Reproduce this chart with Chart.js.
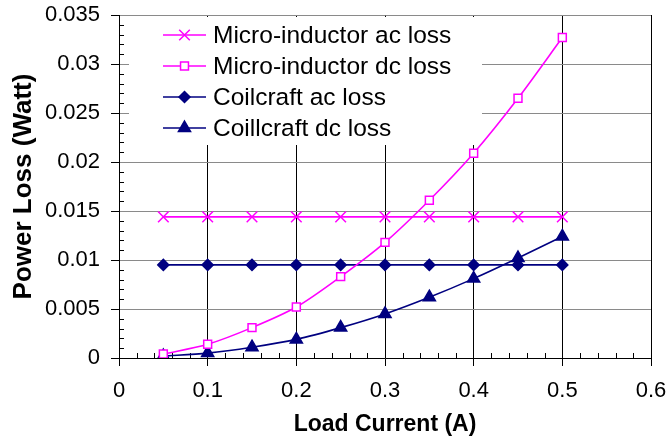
<!DOCTYPE html>
<html>
<head>
<meta charset="utf-8">
<script src="https://cdn.jsdelivr.net/npm/chart.js@4/dist/chart.umd.min.js"></script>
<style>
  html, body { margin: 0; padding: 0; background: #fff; }
  #wrap { width: 667px; height: 441px; }
</style>
</head>
<body>
<div id="wrap"><canvas id="chart-loss" width="667" height="441"></canvas></div>
<script>
var loadCurrent = [0.05, 0.1, 0.15, 0.2, 0.25, 0.3, 0.35, 0.4, 0.45, 0.5];
var microAcLoss = [0.0144, 0.0144, 0.0144, 0.0144, 0.0144, 0.0144, 0.0144, 0.0144, 0.0144, 0.0144];
var microDcLoss = [0.0004, 0.0014, 0.0031, 0.0052, 0.0083, 0.0118, 0.0161, 0.0209, 0.0265, 0.0327];
var coilAcLoss = [0.0095, 0.0095, 0.0095, 0.0095, 0.0095, 0.0095, 0.0095, 0.0095, 0.0095, 0.0095];
var coilDcLoss = [0.0002, 0.0005, 0.0011, 0.0019, 0.0031, 0.0045, 0.0062, 0.0081, 0.0102, 0.0124];
var seriesNames = ["Micro-inductor ac loss", "Micro-inductor dc loss", "Coilcraft ac loss", "Coillcraft dc loss"];
var xTickLabels = ["0", "0.1", "0.2", "0.3", "0.4", "0.5", "0.6"];
var yTickLabels = ["0", "0.005", "0.01", "0.015", "0.02", "0.025", "0.03", "0.035"];

var FONT = "'Liberation Sans', Arial, sans-serif";
var MAGENTA = "#ff00ff";
var NAVY = "#000080";

function points(ys) {
  return loadCurrent.map(function (x, i) { return { x: x, y: ys[i] }; });
}

function series(label, ys, color, style, radius, fill) {
  return {
    label: label,
    data: points(ys),
    borderColor: color,
    backgroundColor: fill,
    borderWidth: 1.6,
    tension: 0.3,
    pointStyle: style,
    pointRadius: radius,
    pointBorderColor: color,
    pointBackgroundColor: fill,
    pointBorderWidth: 1.5
  };
}

// legend inside the plot plus the small inward minor ticks
var decorPlugin = {
  id: "decor",
  beforeDatasetsDraw: function (chart) {
    var ctx = chart.ctx;
    var xs = chart.scales.x, ys = chart.scales.y;
    var area = chart.chartArea;
    ctx.save();
    ctx.strokeStyle = "#000";
    ctx.lineWidth = 1;
    ctx.beginPath();
    for (var i = 1; i < 30; i++) {
      if (i % 5 === 0) continue;
      var px = Math.round(xs.getPixelForValue(i * 0.02)) + 0.5;
      ctx.moveTo(px, area.bottom);
      ctx.lineTo(px, area.bottom - 5);
    }
    for (var j = 1; j < 35; j++) {
      if (j % 5 === 0) continue;
      var py = Math.round(ys.getPixelForValue(j * 0.001)) + 0.5;
      ctx.moveTo(area.left, py);
      ctx.lineTo(area.left + 5, py);
    }
    ctx.stroke();

    // legend box
    ctx.fillStyle = "#fff";
    ctx.fillRect(129, area.top + 2, 353, 128);
    ctx.font = "24.5px " + FONT;
    ctx.textBaseline = "middle";
    chart.data.datasets.forEach(function (ds, k) {
      var y = 35 + k * 31;
      ctx.strokeStyle = ds.borderColor;
      ctx.lineWidth = ds.borderWidth;
      ctx.beginPath();
      ctx.moveTo(163, y);
      ctx.lineTo(206, y);
      ctx.stroke();
      ctx.fillStyle = ds.pointBackgroundColor;
      ctx.lineWidth = ds.pointBorderWidth;
      Chart.helpers.drawPoint(ctx, {
        pointStyle: ds.pointStyle,
        radius: ds.pointRadius,
        rotation: 0,
        borderWidth: ds.pointBorderWidth
      }, 184.5, y);
      ctx.fillStyle = "#000";
      ctx.fillText(seriesNames[k], 213, y + 1);
    });
    ctx.restore();
  }
};

new Chart(document.getElementById("chart-loss"), {
  type: "line",
  data: {
    datasets: [
      series(seriesNames[0], microAcLoss, MAGENTA, "crossRot", 7.5, MAGENTA),
      series(seriesNames[1], microDcLoss, MAGENTA, "rect", 5.6, "#fff"),
      series(seriesNames[2], coilAcLoss, NAVY, "rectRot", 5.5, NAVY),
      series(seriesNames[3], coilDcLoss, NAVY, "triangle", 7, NAVY)
    ]
  },
  options: {
    responsive: false,
    devicePixelRatio: 1,
    animation: false,
    layout: { padding: 0 },
    plugins: { legend: { display: false }, tooltip: { enabled: false } },
    scales: {
      x: {
        type: "linear",
        min: 0,
        max: 0.6,
        afterFit: function (s) {
          s.height = 83;
          s.paddingLeft = 0;
          s.paddingRight = 16;
        },
        ticks: {
          stepSize: 0.1,
          padding: 12,
          color: "#000",
          font: { family: FONT, size: 22 },
          maxRotation: 0,
          callback: function (v, i) { return xTickLabels[i]; }
        },
        grid: { color: "#000", tickColor: "#000", tickLength: 8, lineWidth: 1 },
        border: { color: "#000", width: 1 },
        title: {
          display: true,
          text: "Load Current (A)",
          color: "#000",
          font: { family: FONT, size: 23, weight: "bold" },
          padding: { top: 0, bottom: 3 }
        }
      },
      y: {
        min: 0,
        max: 0.035,
        afterFit: function (s) {
          s.width = 119;
          s.paddingTop = 15;
          s.paddingBottom = 0;
        },
        ticks: {
          stepSize: 0.005,
          padding: 11,
          color: "#000",
          font: { family: FONT, size: 22 },
          callback: function (v, i) { return yTickLabels[i]; }
        },
        grid: { color: "#8a8a8a", tickColor: "#000", tickLength: 8, lineWidth: 1 },
        border: { color: "#000", width: 1 },
        title: {
          display: true,
          text: "Power Loss (Watt)",
          color: "#000",
          font: { family: FONT, size: 26, weight: "bold" },
          padding: { top: 8, bottom: 0 }
        }
      }
    }
  },
  plugins: [decorPlugin]
});
</script>
</body>
</html>
